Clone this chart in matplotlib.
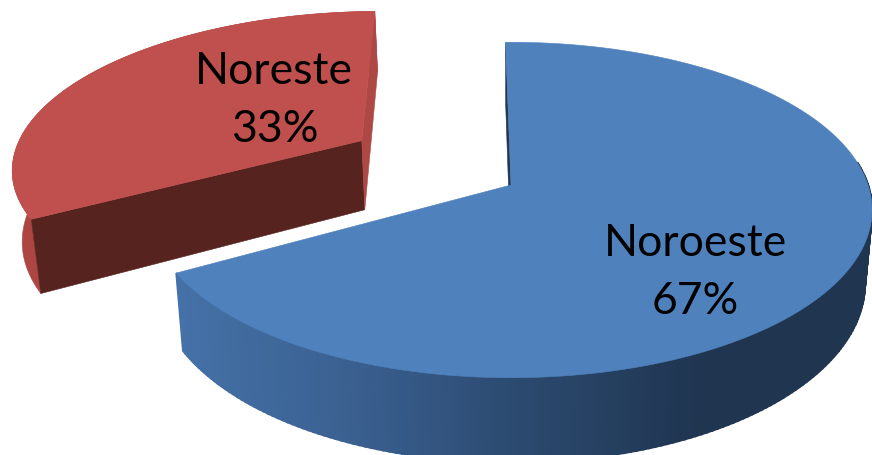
import numpy as np
import matplotlib
matplotlib.use("Agg")
import matplotlib.pyplot as plt
from matplotlib.patches import Polygon
from matplotlib.colors import to_rgb

categories = ["Noroeste", "Noreste"]
values = [67, 33]

# Colours
TOP = ["#4F81BD", "#C0504D"]
INNER = ["#1F3550", "#57231F"]
INNER2 = ["#1F3550", "#AE4845"]
RIM_RED = "#AD4642"
BLUE_STOPS_X = [180, 350, 500, 700]
BLUE_STOPS_C = ["#4471A7", "#3A6090", "#2D4C73", "#1F3550"]

# Perspective pie geometry (pixels)
CX, CY = 511, 185
A, B, K = 357, 164, 0.149
DEPTH = 72
SHRINK = 0.98
START = -1.0
EXPLODE = 0.51
EXPLODE_SHIFT = (0.008, 0.03)
EXPLODE_RADIUS = (1.0, 0.975)


def project(u, v, bottom=False):
    w = 1 + K * v
    x = A * u / w
    y = -B * v / w
    if bottom:
        x *= SHRINK
        y += DEPTH / w
    return CX + x, CY + y


def circle(t0, t1, n=300):
    t = np.radians(np.linspace(t0, t1, n))
    return np.sin(t), np.cos(t)


fig = plt.figure(figsize=(8.72, 4.55), dpi=100)
ax = fig.add_axes([0, 0, 1, 1])
ax.set_xlim(0, 872)
ax.set_ylim(455, 0)
ax.axis("off")

total = sum(values)
spans = [v / total * 360 for v in values]
a0 = START
a1 = a0 + spans[0]
a2 = a1 + spans[1]


def poly(pts_x, pts_y, color, z, lw=0.4):
    ax.add_patch(Polygon(np.column_stack([pts_x, pts_y]), closed=True, fc=color,
                         ec=color, lw=lw, zorder=z))


# Exploded slice (Noreste)
mid = np.radians((a1 + a2) / 2)
u0 = EXPLODE * np.sin(mid) + EXPLODE_SHIFT[0]
v0 = EXPLODE * np.cos(mid) + EXPLODE_SHIFT[1]
u, v = circle(a1, a2)
u, v = u * EXPLODE_RADIUS[0], v * EXPLODE_RADIUS[1]
tx, ty = project(u0 + u, v0 + v)
bx, by = project(u0 + u, v0 + v, True)
poly(np.r_[tx, bx[::-1]], np.r_[ty, by[::-1]], RIM_RED, 1)
ax_, ay_ = project(u0, v0)
bax, bay = project(u0, v0, True)
poly([ax_, tx[0], bx[0], bax], [ay_, ty[0], by[0], bay], INNER[1], 2)
poly([ax_, tx[-1], bx[-1], bax], [ay_, ty[-1], by[-1], bay], INNER2[1], 2)
poly(np.r_[ax_, tx], np.r_[ay_, ty], TOP[1], 3)

# Main slice (Noroeste)
u, v = circle(a0, a1, 260)
tx, ty = project(u, v)
bx, by = project(u, v, True)
ax_, ay_ = project(0, 0)
bax, bay = project(0, 0, True)
poly([ax_, tx[0], bx[0], bax], [ay_, ty[0], by[0], bay], INNER[0], 4)
stops = np.array([to_rgb(c) for c in BLUE_STOPS_C])
for i in range(len(u) - 1):
    if v[i] > 0.15:  # hidden behind the top face
        continue
    xm = (tx[i] + tx[i + 1]) / 2
    col = [np.interp(xm, BLUE_STOPS_X, stops[:, j]) for j in range(3)]
    poly([tx[i], tx[i + 1], bx[i + 1], bx[i]], [ty[i], ty[i + 1], by[i + 1], by[i]], col, 5, lw=1.6)
poly(np.r_[ax_, tx], np.r_[ay_, ty], TOP[0], 6)

# Labels
FONT = dict(family="Lato", fontsize=32, color="black", ha="center", va="center", zorder=10)
pos = [((695, 243), (695, 301)), ((274, 72), (275, 130))]
for name, val, (p1, p2) in zip(categories, values, pos):
    ax.text(*p1, name, **FONT)
    ax.text(*p2, f"{round(val / total * 100)}%", **FONT)

fig.savefig("out.png", dpi=100)
